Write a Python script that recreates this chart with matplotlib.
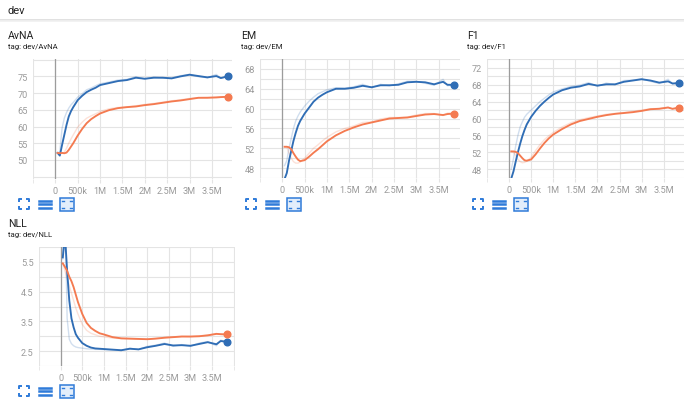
import numpy as np
import matplotlib
matplotlib.use("Agg")
import matplotlib.pyplot as plt
from matplotlib.ticker import FixedLocator, FuncFormatter
from matplotlib.lines import Line2D
from matplotlib.patches import Rectangle

plt.rcParams['font.family'] = ['Roboto', 'DejaVu Sans']

# training steps (thousands) at which dev metrics were logged
steps_k = [50, 100, 150, 200, 250, 300, 350, 400, 500, 600, 700, 800, 900, 1000,
           1200, 1400, 1600, 1800, 2000, 2200, 2400, 2600, 2800, 3000, 3200, 3400,
           3600, 3700, 3850]

# AvNA
avna_blue = [52.1, 51.3, 54.5, 57.5, 60.5, 63.0, 64.6, 65.8, 67.9, 69.2, 70.3, 71.0, 71.6, 72.4,
             73.0, 73.6, 73.9, 74.6, 74.3, 74.6, 74.6, 74.4, 75.0, 75.5, 75.1, 74.7,
             75.1, 74.5, 75.0]
avna_blue_raw = [52.0, 52.5, 59.5, 62.5, 64.2, 65.5, 66.5, 67.2, 68.8, 69.8, 71.0, 71.5, 72.2, 72.8,
                 73.3, 73.9, 74.1, 74.9, 74.2, 74.8, 74.5, 74.6, 75.2, 75.6, 74.9, 74.6,
                 75.6, 74.4, 75.0]
avna_orange = [52.1, 52.0, 52.1, 52.0, 52.2, 53.0, 54.0, 55.0, 57.3, 59.3, 61.0, 62.2, 63.1, 63.9,
               64.9, 65.5, 65.8, 66.0, 66.4, 66.7, 67.1, 67.5, 67.8, 68.2, 68.6, 68.6,
               68.7, 68.8, 68.9]
avna_orange_raw = [52.1, 52.0, 52.0, 52.3, 53.5, 55.0, 56.3, 57.5, 59.8, 61.3, 62.5, 63.2, 63.8, 64.5,
                   65.3, 65.7, 65.9, 66.2, 66.6, 66.9, 67.3, 67.7, 68.0, 68.4, 68.6, 68.7,
                   68.8, 68.9, 68.9]

# EM
em_blue = [45.8, 47.0, 49.5, 51.5, 53.5, 55.1, 56.5, 57.5, 59.0, 60.2, 61.4, 62.2, 62.8, 63.3,
           64.0, 64.0, 64.2, 64.6, 64.3, 64.7, 64.7, 64.8, 65.3, 65.4, 65.3, 64.9,
           65.4, 64.8, 64.8]
em_blue_raw = [48.5, 49.5, 52.0, 54.0, 56.0, 57.5, 58.5, 59.3, 60.5, 61.5, 62.3, 63.0, 63.4, 63.8,
               64.2, 64.1, 64.4, 64.9, 64.2, 64.9, 64.6, 65.0, 65.5, 65.5, 65.1, 64.7,
               65.9, 64.6, 64.8]
em_orange = [52.3, 52.3, 52.2, 51.8, 51.0, 50.3, 49.7, 49.4, 49.6, 50.3, 51.1, 51.8, 52.6, 53.4,
             54.6, 55.5, 56.2, 56.8, 57.2, 57.6, 58.0, 58.1, 58.2, 58.5, 58.8, 58.9,
             58.7, 58.9, 59.0]
em_orange_raw = [52.3, 52.2, 51.0, 50.0, 49.3, 49.0, 49.0, 49.2, 50.0, 51.0, 52.0, 52.7, 53.5, 54.2,
                 55.3, 56.0, 56.5, 57.2, 57.3, 57.9, 58.2, 58.2, 58.3, 58.7, 59.0, 59.0,
                 58.6, 59.1, 59.0]

# F1
f1_blue = [45.8, 47.5, 49.8, 52.0, 54.0, 55.8, 57.3, 58.6, 60.4, 61.8, 63.0, 64.0, 64.9, 65.7,
           66.7, 67.3, 67.6, 68.2, 67.8, 68.1, 68.1, 68.7, 69.0, 69.3, 69.0, 68.5,
           68.8, 68.3, 68.4]
f1_blue_raw = [48.0, 50.5, 53.5, 56.0, 58.0, 59.2, 60.3, 61.0, 62.0, 63.0, 64.0, 64.8, 65.6, 66.3,
               67.0, 67.6, 67.9, 68.5, 67.6, 68.4, 68.0, 69.0, 69.1, 69.4, 68.8, 68.3,
               69.3, 68.2, 68.4]
f1_orange = [52.2, 52.2, 52.1, 51.8, 51.2, 50.6, 50.1, 50.0, 50.3, 51.5, 52.9, 54.2, 55.3, 56.2,
             57.5, 58.6, 59.4, 59.9, 60.4, 60.8, 61.1, 61.3, 61.5, 61.8, 62.2, 62.3,
             62.6, 62.3, 62.6]
f1_orange_raw = [52.2, 52.0, 51.2, 50.3, 49.8, 49.5, 49.6, 49.9, 50.8, 52.4, 53.8, 55.0, 55.9, 56.7,
                 58.0, 59.0, 59.7, 60.2, 60.6, 61.0, 61.2, 61.4, 61.7, 62.0, 62.3, 62.4,
                 62.7, 62.2, 62.6]

# NLL
nll_blue = [5.65, 6.4, 5.2, 4.2, 3.6, 3.3, 3.07, 2.95, 2.77, 2.68, 2.62, 2.59, 2.58, 2.57,
            2.55, 2.53, 2.58, 2.56, 2.63, 2.68, 2.74, 2.69, 2.70, 2.68, 2.74, 2.80,
            2.73, 2.84, 2.81]
nll_blue_raw = [5.6, 7.5, 3.6, 2.9, 2.75, 2.68, 2.64, 2.62, 2.6, 2.58, 2.57, 2.56, 2.56, 2.55,
                2.54, 2.52, 2.6, 2.55, 2.66, 2.7, 2.77, 2.66, 2.72, 2.66, 2.77, 2.82,
                2.68, 2.87, 2.81]
nll_orange = [5.45, 5.33, 5.2, 5.0, 4.85, 4.65, 4.4, 4.15, 3.75, 3.45, 3.28, 3.18, 3.1, 3.06,
              2.97, 2.93, 2.92, 2.91, 2.90, 2.92, 2.95, 2.97, 2.99, 2.99, 3.0, 3.03,
              3.08, 3.07, 3.06]
nll_orange_raw = [5.45, 5.2, 4.95, 4.7, 4.45, 4.2, 3.95, 3.75, 3.4, 3.2, 3.1, 3.05, 3.0, 2.98,
                  2.94, 2.92, 2.91, 2.9, 2.9, 2.93, 2.96, 2.98, 3.0, 2.99, 3.01, 3.04,
                  3.09, 3.06, 3.06]

BLUE = '#2f6db5'
ORANGE = '#f47a50'
ICON = '#2f7bd9'
W, H = 684, 402

steps = np.array(steps_k) * 1000.0

fig = plt.figure(figsize=(W / 100, H / 100), dpi=100)
fig.patch.set_facecolor('white')


def px(x, y):
    return x / W, 1 - y / H


def step_label(v, pos):
    if v == 0:
        return '0'
    if v >= 1e6:
        return f'{v / 1e6:g}M'
    return f'{v / 1e3:g}k'


def draw_icons(x0, y0):
    c = ICON
    # fullscreen corners
    s, a = 5, 3
    for dx, dy in [(-1, -1), (1, -1), (-1, 1), (1, 1)]:
        cx, cy = x0 + dx * s, y0 + dy * s
        xs = [cx - dx * a, cx, cx]
        ys = [cy, cy, cy - dy * a]
        fig.add_artist(Line2D([px(x, 0)[0] for x in xs], [px(0, y)[1] for y in ys],
                              color=c, lw=1.4, solid_capstyle='butt'))
    # list icon
    for k in (-3.5, 0, 3.5):
        fig.add_artist(Line2D([px(x0 + 21 - 6, 0)[0], px(x0 + 21 + 6, 0)[0]],
                              [px(0, y0 + k)[1]] * 2, color=c, lw=1.8))
    # fit-domain icon
    bx, by = x0 + 43 - 7, y0 - 6.5
    fig.add_artist(Rectangle(px(bx, by + 13), 14 / W, 13 / H, facecolor='#e3eefb',
                             edgecolor=c, lw=1.1))
    for dx, dy in [(3, 3), (11, 3), (3, 10), (11, 10)]:
        fig.add_artist(Line2D([px(bx + dx - 0.6, 0)[0], px(bx + dx + 0.6, 0)[0]],
                              [px(0, by + dy)[1]] * 2, color=c, lw=1.0))


def draw_panel(left, right, top, bottom, title, tag, tx, runs, ylim, ymaj, ymin,
               xmax, yfmt):
    l, b = px(left, bottom)
    ax = fig.add_axes([l, b, (right - left) / W, (bottom - top) / H])
    for raw, smooth, color in runs:
        ax.plot(steps, raw, color=color, alpha=0.22, lw=1.0)
    for raw, smooth, color in runs:
        ax.plot(steps, smooth, color=color, lw=1.35)
        ax.plot(steps[-1], smooth[-1], 'o', color=color, ms=4.8, clip_on=False)
    ax.set_xlim(-5e5, xmax)
    ax.set_ylim(*ylim)
    ax.xaxis.set_major_locator(FixedLocator(np.arange(0, 3.6e6, 5e5)))
    ax.xaxis.set_minor_locator(FixedLocator([-5e5, 4e6]))
    ax.xaxis.set_major_formatter(FuncFormatter(step_label))
    ax.yaxis.set_major_locator(FixedLocator(ymaj))
    ax.yaxis.set_minor_locator(FixedLocator(ymin))
    ax.yaxis.set_major_formatter(FuncFormatter(lambda v, p: yfmt.format(v)))
    for s in ax.spines.values():
        s.set_visible(False)
    ax.grid(which='both', color='#e4e4e4', lw=0.8)
    ax.set_axisbelow(True)
    ax.axvline(0, color='#9c9c9c', lw=0.9, zorder=1.5)
    ax.tick_params(axis='both', which='both', labelsize=6.6, labelcolor='#9a9a9a',
                   color='#e4e4e4', length=0, pad=4)
    ax.tick_params(axis='x', which='both', length=3, pad=2)
    ax.set_facecolor('none')
    ty = 36 if top < 100 else 224
    fig.text(tx / W, 1 - ty / H, title, fontsize=7.6, color='#212121', va='center')
    fig.text(tx / W, 1 - (ty + 11.5) / H, tag, fontsize=5.6, color='#212121', va='center')
    return ax


# header
fig.text(8 / W, 1 - 11 / H, 'dev', fontsize=8, color='#212121', va='center')
fig.add_artist(Line2D([0, 1], [1 - 20.5 / H] * 2, color='#dcdcdc', lw=1.2))
fig.add_artist(Line2D([0, 1], [1 - 22 / H] * 2, color='#f0f0f0', lw=1.2))

draw_panel(33, 232, 60, 180, 'AvNA', 'tag: dev/AvNA', 8,
           [(avna_blue_raw, avna_blue, BLUE), (avna_orange_raw, avna_orange, ORANGE)],
           (44.3, 80.2), [50, 55, 60, 65, 70, 75], [45, 80], 3.95e6, '{:g}')
draw_panel(260, 460, 60, 179, 'EM', 'tag: dev/EM', 241,
           [(em_blue_raw, em_blue, BLUE), (em_orange_raw, em_orange, ORANGE)],
           (46.0, 70.0), [48, 52, 56, 60, 64, 68], list(range(46, 71, 2)), 3.98e6, '{:g}')
draw_panel(487, 684, 60, 179, 'F1', 'tag: dev/F1', 467,
           [(f1_blue_raw, f1_blue, BLUE), (f1_orange_raw, f1_orange, ORANGE)],
           (45.9, 74.1), [48, 52, 56, 60, 64, 68, 72], list(range(46, 75, 2)), 3.96e6, '{:g}')
draw_panel(39, 235, 248, 367, 'NLL', 'tag: dev/NLL', 8,
           [(nll_blue_raw, nll_blue, BLUE), (nll_orange_raw, nll_orange, ORANGE)],
           (2.0, 6.0), [2.5, 3.5, 4.5, 5.5], [2.0, 3.0, 4.0, 5.0, 6.0], 4.03e6, '{:.1f}')

draw_icons(24, 205)
draw_icons(251, 205)
draw_icons(478, 205)
draw_icons(24, 392)

fig.savefig('out.png', dpi=100, facecolor='white')
